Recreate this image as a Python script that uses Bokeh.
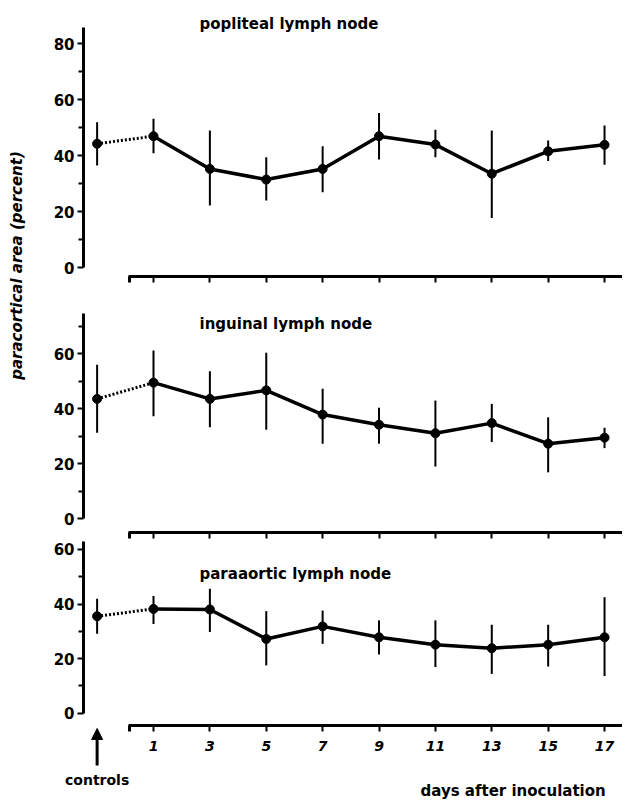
from bokeh.plotting import figure
from bokeh.models import Range1d, LinearAxis, FixedTicker, Label, Arrow, NormalHead, ColumnDataSource
from bokeh.embed import file_html
from bokeh.resources import INLINE
import math

# ---------------- data ----------------
days = [1, 3, 5, 7, 9, 11, 13, 15, 17]
control_day = -1
panel_names = ["popliteal lymph node", "inguinal lymph node", "paraaortic lymph node"]

ctrl_mean = [44.2, 43.6, 35.5]
ctrl_lo = [36.4, 31.3, 29.1]
ctrl_hi = [51.9, 56.0, 41.9]

pop_mean = [46.9, 35.2, 31.4, 35.2, 46.9, 43.9, 33.5, 41.5, 43.8]
pop_hi = [53.1, 48.9, 39.4, 43.3, 55.2, 49.2, 48.9, 45.4, 50.7]
pop_lo = [40.8, 22.1, 23.9, 26.9, 38.6, 39.4, 17.7, 38.0, 36.7]

ing_mean = [49.5, 43.6, 46.7, 37.9, 34.2, 31.1, 34.8, 27.3, 29.5]
ing_hi = [61.2, 53.7, 60.4, 47.3, 40.4, 43.0, 41.8, 36.9, 33.1]
ing_lo = [37.3, 33.3, 32.4, 27.3, 27.3, 19.0, 27.9, 16.9, 25.7]

par_mean = [38.2, 38.0, 27.2, 31.8, 27.8, 25.1, 23.8, 25.1, 27.8]
par_hi = [42.9, 45.6, 37.4, 37.6, 34.0, 34.0, 32.4, 32.4, 42.5]
par_lo = [32.7, 29.7, 17.5, 25.4, 21.5, 16.9, 14.4, 17.1, 13.6]

y_ticks = [[0, 20, 40, 60, 80], [0, 20, 40, 60], [0, 20, 40, 60]]
y_minor = [[10, 30, 50, 70], [10, 30, 50, 70], [10, 30, 50]]
x_ticks = [1, 3, 5, 7, 9, 11, 13, 15, 17]

# ---------------- layout (pixels; the whole canvas is the plot frame) ----------------
W, H = 622, 799
day1_px, px_per_day = 153.0, 28.19


def px_to_day(px):
    return 1 + (px - day1_px) / px_per_day


x_start, x_end = px_to_day(0), px_to_day(W)
yaxis_day = px_to_day(83)

# zero line (px), px per unit, top of y axis (units), x-axis line (px)
panels = [
    dict(name="top", zero=267.0, ppu=2.8, ytop=85.7, xaxis_px=276.0),
    dict(name="mid", zero=518.3, ppu=2.75, ytop=74.7, xaxis_px=532.0),
    dict(name="bot", zero=712.7, ppu=2.73, ytop=63.0, xaxis_px=725.0),
]
for pn in panels:
    pn["start"] = (pn["zero"] - H) / pn["ppu"]
    pn["end"] = pn["zero"] / pn["ppu"]

FONT = "DejaVu Sans"

p = figure(width=W, height=H, output_backend="svg", toolbar_location=None,
           x_range=Range1d(x_start, x_end),
           y_range=Range1d(panels[2]["start"], panels[2]["end"]),
           x_axis_location=None, y_axis_location=None,
           min_border_left=0, min_border_right=0,
           min_border_top=0, min_border_bottom=0)
p.outline_line_color = None
p.grid.visible = False
p.background_fill_color = "white"
p.border_fill_color = "white"

p.extra_y_ranges = {pn["name"]: Range1d(pn["start"], pn["end"]) for pn in panels}

means = [pop_mean, ing_mean, par_mean]
his = [pop_hi, ing_hi, par_hi]
los = [pop_lo, ing_lo, par_lo]
title_px = [23, 323, 573]

for i, pn in enumerate(panels):
    rn = pn["name"]
    # y axis
    ya = LinearAxis(y_range_name=rn, fixed_location=yaxis_day,
                    ticker=FixedTicker(ticks=y_ticks[i], minor_ticks=y_minor[i]),
                    bounds=(0, pn["ytop"]))
    ya.axis_line_width = 3
    ya.major_tick_line_width = 2
    ya.minor_tick_line_width = 2
    ya.major_tick_in = 0
    ya.major_tick_out = 6
    ya.minor_tick_in = 0
    ya.minor_tick_out = 5
    ya.major_label_standoff = 3
    ya.major_label_text_font = FONT
    ya.major_label_text_font_style = "bold"
    ya.major_label_text_font_size = "15px"
    ya.major_label_text_color = "black"
    p.add_layout(ya, "left")

    # x axis
    xa_loc = (pn["zero"] - pn["xaxis_px"]) / pn["ppu"]
    xa = LinearAxis(y_range_name=rn, fixed_location=xa_loc,
                    ticker=FixedTicker(ticks=x_ticks, minor_ticks=[0.15]),
                    bounds=(0.12, x_end))
    xa.axis_line_width = 3
    xa.major_tick_line_width = 2
    xa.minor_tick_line_width = 3
    xa.major_tick_in = 0
    xa.major_tick_out = 6
    xa.minor_tick_in = 0
    xa.minor_tick_out = 6
    xa.major_label_standoff = 9
    xa.major_label_text_font = FONT
    xa.major_label_text_font_style = "bold italic"
    xa.major_label_text_font_size = "14px"
    xa.major_label_text_color = "black"
    if i < 2:
        xa.major_label_text_alpha = 0
    p.add_layout(xa, "below")

    # data
    src = ColumnDataSource(dict(x=days, m=means[i], lo=los[i], hi=his[i]))
    csrc = ColumnDataSource(dict(x=[control_day], m=[ctrl_mean[i]], lo=[ctrl_lo[i]], hi=[ctrl_hi[i]]))
    dsrc = ColumnDataSource(dict(x=[control_day, days[0]], m=[ctrl_mean[i], means[i][0]]))

    p.segment(x0="x", y0="lo", x1="x", y1="hi", source=src, y_range_name=rn,
              line_color="black", line_width=2)
    p.segment(x0="x", y0="lo", x1="x", y1="hi", source=csrc, y_range_name=rn,
              line_color="black", line_width=2)
    p.line(x="x", y="m", source=dsrc, y_range_name=rn, line_color="black",
           line_width=3, line_dash="2 2")
    p.line(x="x", y="m", source=src, y_range_name=rn, line_color="black", line_width=3.5)
    p.scatter(x="x", y="m", source=src, y_range_name=rn, size=9, color="black")
    p.scatter(x="x", y="m", source=csrc, y_range_name=rn, size=9, color="black")

    p.add_layout(Label(x=px_to_day(199), y=(pn["zero"] - title_px[i]) / pn["ppu"],
                       y_range_name=rn, text=panel_names[i],
                       text_font=FONT, text_font_style="bold", text_font_size="15px",
                       text_align="left", text_baseline="middle", text_color="black"))

top, bot = panels[0], panels[2]

# y-axis title (spans upper panels)
p.add_layout(Label(x=px_to_day(16), y=(top["zero"] - 265) / top["ppu"],
                   y_range_name="top", text="paracortical area (percent)", angle=math.pi / 2,
                   text_font=FONT, text_font_style="bold italic", text_font_size="15px",
                   text_align="center", text_baseline="middle", text_color="black"))

# controls arrow + label
p.add_layout(Arrow(x_start=control_day, y_start=(bot["zero"] - 765) / bot["ppu"],
                   x_end=control_day, y_end=(bot["zero"] - 728) / bot["ppu"],
                   y_range_name="bot", line_width=3, line_color="black",
                   end=NormalHead(size=11, fill_color="black", line_color="black")))
p.add_layout(Label(x=control_day, y=(bot["zero"] - 779) / bot["ppu"], y_range_name="bot",
                   text="controls",
                   text_font=FONT, text_font_style="bold", text_font_size="14px",
                   text_align="center", text_baseline="middle", text_color="black"))
p.add_layout(Label(x=px_to_day(420), y=(bot["zero"] - 790) / bot["ppu"], y_range_name="bot",
                   text="days after inoculation",
                   text_font=FONT, text_font_style="bold", text_font_size="15px",
                   text_align="left", text_baseline="middle", text_color="black"))

open("out.html", "w").write(file_html(p, INLINE))
